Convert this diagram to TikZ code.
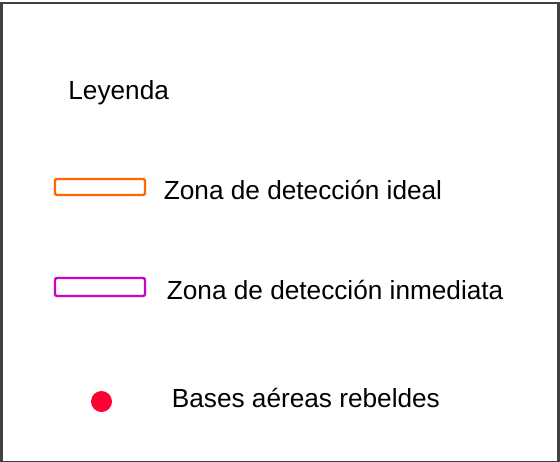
\documentclass[tikz,border=0pt]{standalone}
\usepackage{fontspec}
\setmainfont{Liberation Sans}
\definecolor{framegray}{HTML}{404040}
\definecolor{zoneorange}{HTML}{FF6600}
\definecolor{zonemagenta}{HTML}{CC00CC}
\definecolor{baseRed}{HTML}{FF0033}
\begin{document}
\begin{tikzpicture}[x=0.5pt, y=-0.5pt,
  legendtext/.style={anchor=base west, inner sep=0pt, font=\fontsize{13.1}{15}\selectfont},
  zonebox/.style={draw, line width=1.2pt, rounded corners=1pt, inner sep=0pt, minimum width=45pt},
]
  \useasboundingbox (0,0) rectangle (560,461);
  \draw[framegray, line width=1.3pt] (1.5,3) rectangle (558.5,462.2);
  \node[legendtext] (title) at (68,99) {Leyenda};
  % zonas
  \node[zonebox, zoneorange, minimum height=8pt] (ideal) at (100,187) {};
  \node[zonebox, zonemagenta, minimum height=9pt] (inmediata) at (100,287) {};
  % bases
  \node[circle, fill=baseRed, inner sep=0pt, minimum size=10.5pt] (base) at (101.5,401.5) {};
  \node[legendtext] (idealtxt) at (163.5,199) {Zona de detección ideal};
  \node[legendtext] (inmediatatxt) at (166.5,299) {Zona de detección inmediata};
  \node[legendtext] (basetxt) at (171.5,407) {Bases aéreas rebeldes};
\end{tikzpicture}
\end{document}
